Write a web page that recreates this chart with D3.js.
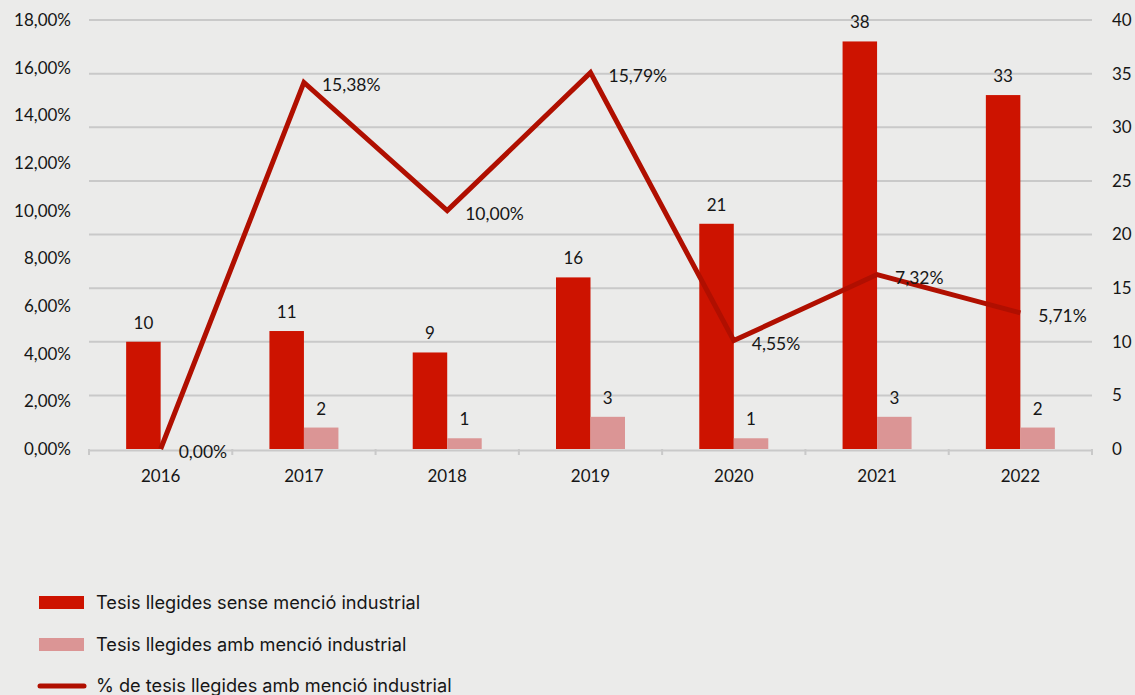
<!DOCTYPE html>
<html><head><meta charset="utf-8">
<script src="https://cdn.jsdelivr.net/npm/d3@7"></script>
<style>
html,body{margin:0;padding:0;background:#ebebea;}
svg{display:block;}
</style></head>
<body>
<svg id="chart" width="1135" height="695"></svg>
<script>
const years = ['2016','2017','2018','2019','2020','2021','2022'];
const senseMencio = [10, 11, 9, 16, 21, 38, 33];
const ambMencio = [0, 2, 1, 3, 1, 3, 2];
const pctMencio = [0, 15.38, 10.00, 15.79, 4.55, 7.32, 5.71];
const leftTicks = [0, 2, 4, 6, 8, 10, 12, 14, 16, 18];
const rightTicks = [0, 5, 10, 15, 20, 25, 30, 35, 40];
const legendLabels = ['Tesis llegides sense menció industrial', 'Tesis llegides amb menció industrial', '% de tesis llegides amb menció industrial'];

const C_DARK = '#cd1300', C_LIGHT = '#db9595', C_LINE = '#b00f00';
const chartFont = 'Lato, "Open Sans", sans-serif';
const legendFont = 'Inter, Roboto, sans-serif';

const svg = d3.select('#chart');
const W = 1135, H = 695;
svg.append('rect').attr('width', W).attr('height', H).attr('fill', '#ebebea');

const x0 = 89, x1 = 1092, yTop = 20, yBot = 449;
const x = d3.scaleBand().domain(years).range([x0, x1]).padding(0);
const yL = d3.scaleLinear().domain([0, 18]).range([yBot, yTop]);
const yR = d3.scaleLinear().domain([0, 40]).range([yBot, yTop]);
const bw = 34.5;

// gridlines (right axis)
svg.append('g').selectAll('line').data(rightTicks.filter(d => d > 0)).join('line')
  .attr('x1', x0).attr('x2', x1).attr('y1', d => yR(d)).attr('y2', d => yR(d))
  .attr('stroke', '#c9c9c9').attr('stroke-width', 2);

// left axis labels
const gL = svg.append('g').attr('transform', `translate(${x0},0)`)
  .call(d3.axisLeft(yL).tickValues(leftTicks).tickSize(0).tickPadding(18)
    .tickFormat(d => d.toFixed(2).replace('.', ',') + '%'));
gL.select('.domain').remove();
gL.selectAll('text').attr('font-family', chartFont).attr('font-size', 17).attr('fill', '#161616');

// right axis labels
const gR = svg.append('g').attr('transform', `translate(${x1},0)`)
  .call(d3.axisRight(yR).tickValues(rightTicks).tickSize(0).tickPadding(20));
gR.select('.domain').remove();
gR.selectAll('text').attr('font-family', chartFont).attr('font-size', 17).attr('fill', '#161616');

// bars
svg.append('g').selectAll('rect').data(years).join('rect')
  .attr('x', (d) => x(d) + x.bandwidth() / 2 - bw)
  .attr('y', (d, i) => yR(senseMencio[i]))
  .attr('width', bw)
  .attr('height', (d, i) => yBot - yR(senseMencio[i]))
  .attr('fill', C_DARK);
svg.append('g').selectAll('rect').data(years).join('rect')
  .attr('x', (d) => x(d) + x.bandwidth() / 2)
  .attr('y', (d, i) => yR(ambMencio[i]))
  .attr('width', bw)
  .attr('height', (d, i) => yBot - yR(ambMencio[i]))
  .attr('fill', C_LIGHT);

// x axis
const gX = svg.append('g').attr('transform', `translate(0,${yBot + 1})`)
  .call(d3.axisBottom(x).tickSize(0).tickPadding(20));
gX.select('.domain').attr('stroke', '#c9c9c9').attr('stroke-width', 2);
gX.selectAll('text').attr('font-family', chartFont).attr('font-size', 17).attr('fill', '#161616');
svg.append('g').selectAll('line').data(d3.range(years.length + 1)).join('line')
  .attr('x1', i => x0 + i * x.step()).attr('x2', i => x0 + i * x.step())
  .attr('y1', yBot).attr('y2', yBot + 6)
  .attr('stroke', '#c9c9c9').attr('stroke-width', 2);

// bar labels
svg.append('g').selectAll('text').data(years).join('text')
  .attr('x', d => x(d) + x.bandwidth() / 2 - bw / 2)
  .attr('y', (d, i) => yR(senseMencio[i]) - 13)
  .attr('text-anchor', 'middle').attr('font-family', chartFont).attr('font-size', 17).attr('fill', '#161616')
  .text((d, i) => senseMencio[i]);
svg.append('g').selectAll('text').data(years.filter((d, i) => ambMencio[i] > 0)).join('text')
  .attr('x', d => x(d) + x.bandwidth() / 2 + bw / 2)
  .attr('y', d => yR(ambMencio[years.indexOf(d)]) - 13)
  .attr('text-anchor', 'middle').attr('font-family', chartFont).attr('font-size', 17).attr('fill', '#161616')
  .text(d => ambMencio[years.indexOf(d)]);

// line
const line = d3.line().x((d, i) => x(years[i]) + x.bandwidth() / 2).y(d => yL(d));
svg.append('path').datum(pctMencio).attr('d', line)
  .attr('fill', 'none').attr('stroke', C_LINE).attr('stroke-width', 5).attr('stroke-linejoin', 'miter');

svg.append('g').selectAll('text').data(pctMencio).join('text')
  .attr('x', (d, i) => x(years[i]) + x.bandwidth() / 2 + 18)
  .attr('y', d => yL(d) + 9)
  .attr('font-family', chartFont).attr('font-size', 17.5).attr('fill', '#161616')
  .text(d => d.toFixed(2).replace('.', ',') + '%');

// legend
const lg = svg.append('g');
const ly = [603, 645, 686];
lg.append('rect').attr('x', 39).attr('y', ly[0] - 7).attr('width', 45).attr('height', 13).attr('fill', C_DARK);
lg.append('rect').attr('x', 39).attr('y', ly[1] - 7).attr('width', 45).attr('height', 13).attr('fill', C_LIGHT);
lg.append('line').attr('x1', 40).attr('x2', 84).attr('y1', ly[2]).attr('y2', ly[2])
  .attr('stroke', C_LINE).attr('stroke-width', 5).attr('stroke-linecap', 'round');
lg.selectAll('text').data(legendLabels).join('text')
  .attr('x', 96).attr('y', (d, i) => ly[i]).attr('dy', '0.35em')
  .attr('font-family', legendFont).attr('font-size', 18.2).attr('fill', '#161616')
  .text(d => d);
</script>
</body></html>
